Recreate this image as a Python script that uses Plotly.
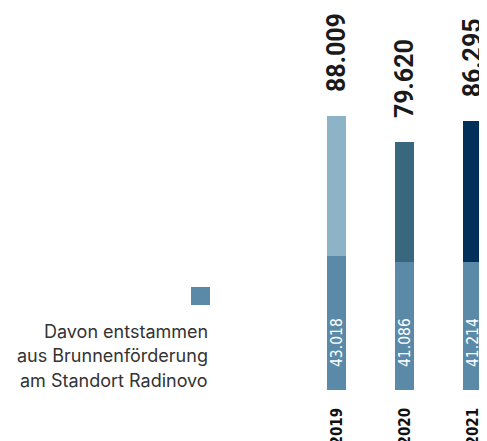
import plotly.graph_objects as go

years = ["2019", "2020", "2021"]
totals = [88.009, 79.620, 86.295]
wells = [43.018, 41.086, 41.214]
total_labels = ["88.009", "79.620", "86.295"]
well_labels = ["43.018", "41.086", "41.214"]
top_colors = ["#8DB3C7", "#38677E", "#03305A"]
well_color = "#5A8AA8"
legend_lines = ["Davon entstammen", "aus Brunnenförderung", "am Standort Radinovo"]

rest = [t - w for t, w in zip(totals, wells)]

OFF = 8  # page body margin
W, H = 487 - OFF, 441 - OFF
base_px = 390 - OFF
px_per_cat = 68
first_center = 336.5 - OFF
px_per_unit = 274 / 88.009

fig = go.Figure()
fig.add_trace(go.Bar(x=years, y=wells, marker=dict(color=well_color, line=dict(width=0)),
                     width=19 / px_per_cat, hoverinfo="skip"))
fig.add_trace(go.Bar(x=years, y=rest, marker=dict(color=top_colors, line=dict(width=0)),
                     width=19 / px_per_cat, hoverinfo="skip"))

cond = "DejaVu Sans Condensed"
annotations = []
for i, (yr, t, tl, wl) in enumerate(zip(years, totals, total_labels, well_labels)):
    annotations.append(dict(x=i, y=t, xref="x", yref="y", text=tl, showarrow=False,
                            textangle=-90, xanchor="center", yanchor="bottom", yshift=22,
                            font=dict(family="Roboto", size=25, color="#1a1a1a", weight="bold")))
    annotations.append(dict(x=i, y=0, xref="x", yref="y", text=wl, showarrow=False,
                            textangle=-90, xanchor="center", yanchor="bottom", yshift=21,
                            font=dict(family=cond, size=15.5, color="#ffffff")))
    annotations.append(dict(x=i, y=0, xref="x", yref="y", text=yr, showarrow=False,
                            textangle=-90, xanchor="center", yanchor="top", yshift=-16,
                            font=dict(family=cond, size=15, color="#111111", weight="bold")))

plot_h = base_px
line_centers = [331 - OFF, 355.5 - OFF, 380 - OFF]
for line, cy in zip(legend_lines, line_centers):
    annotations.append(dict(x=(210 - OFF) / W, y=(plot_h - cy) / plot_h, xref="paper", yref="paper",
                            text=line, showarrow=False, xanchor="right", yanchor="middle",
                            font=dict(family="Inter", size=18, color="#333333")))

fig.update_layout(
    width=W, height=H,
    margin=dict(l=0, r=0, t=0, b=H - base_px, pad=0),
    barmode="stack", bargap=0,
    paper_bgcolor="white", plot_bgcolor="white",
    showlegend=False,
    xaxis=dict(type="category", range=[-first_center / px_per_cat, (W - first_center) / px_per_cat],
               showticklabels=False, showgrid=False, zeroline=False, showline=False, ticks=""),
    yaxis=dict(range=[0, plot_h / px_per_unit], visible=False, showgrid=False, zeroline=False),
    annotations=annotations,
    shapes=[dict(type="rect", xref="paper", yref="paper",
                 x0=(191 - OFF) / W, x1=(210 - OFF) / W,
                 y0=(plot_h - 305 + OFF) / plot_h, y1=(plot_h - 287 + OFF) / plot_h,
                 fillcolor=well_color, line=dict(width=0))],
)

fig.write_html("out.html")
